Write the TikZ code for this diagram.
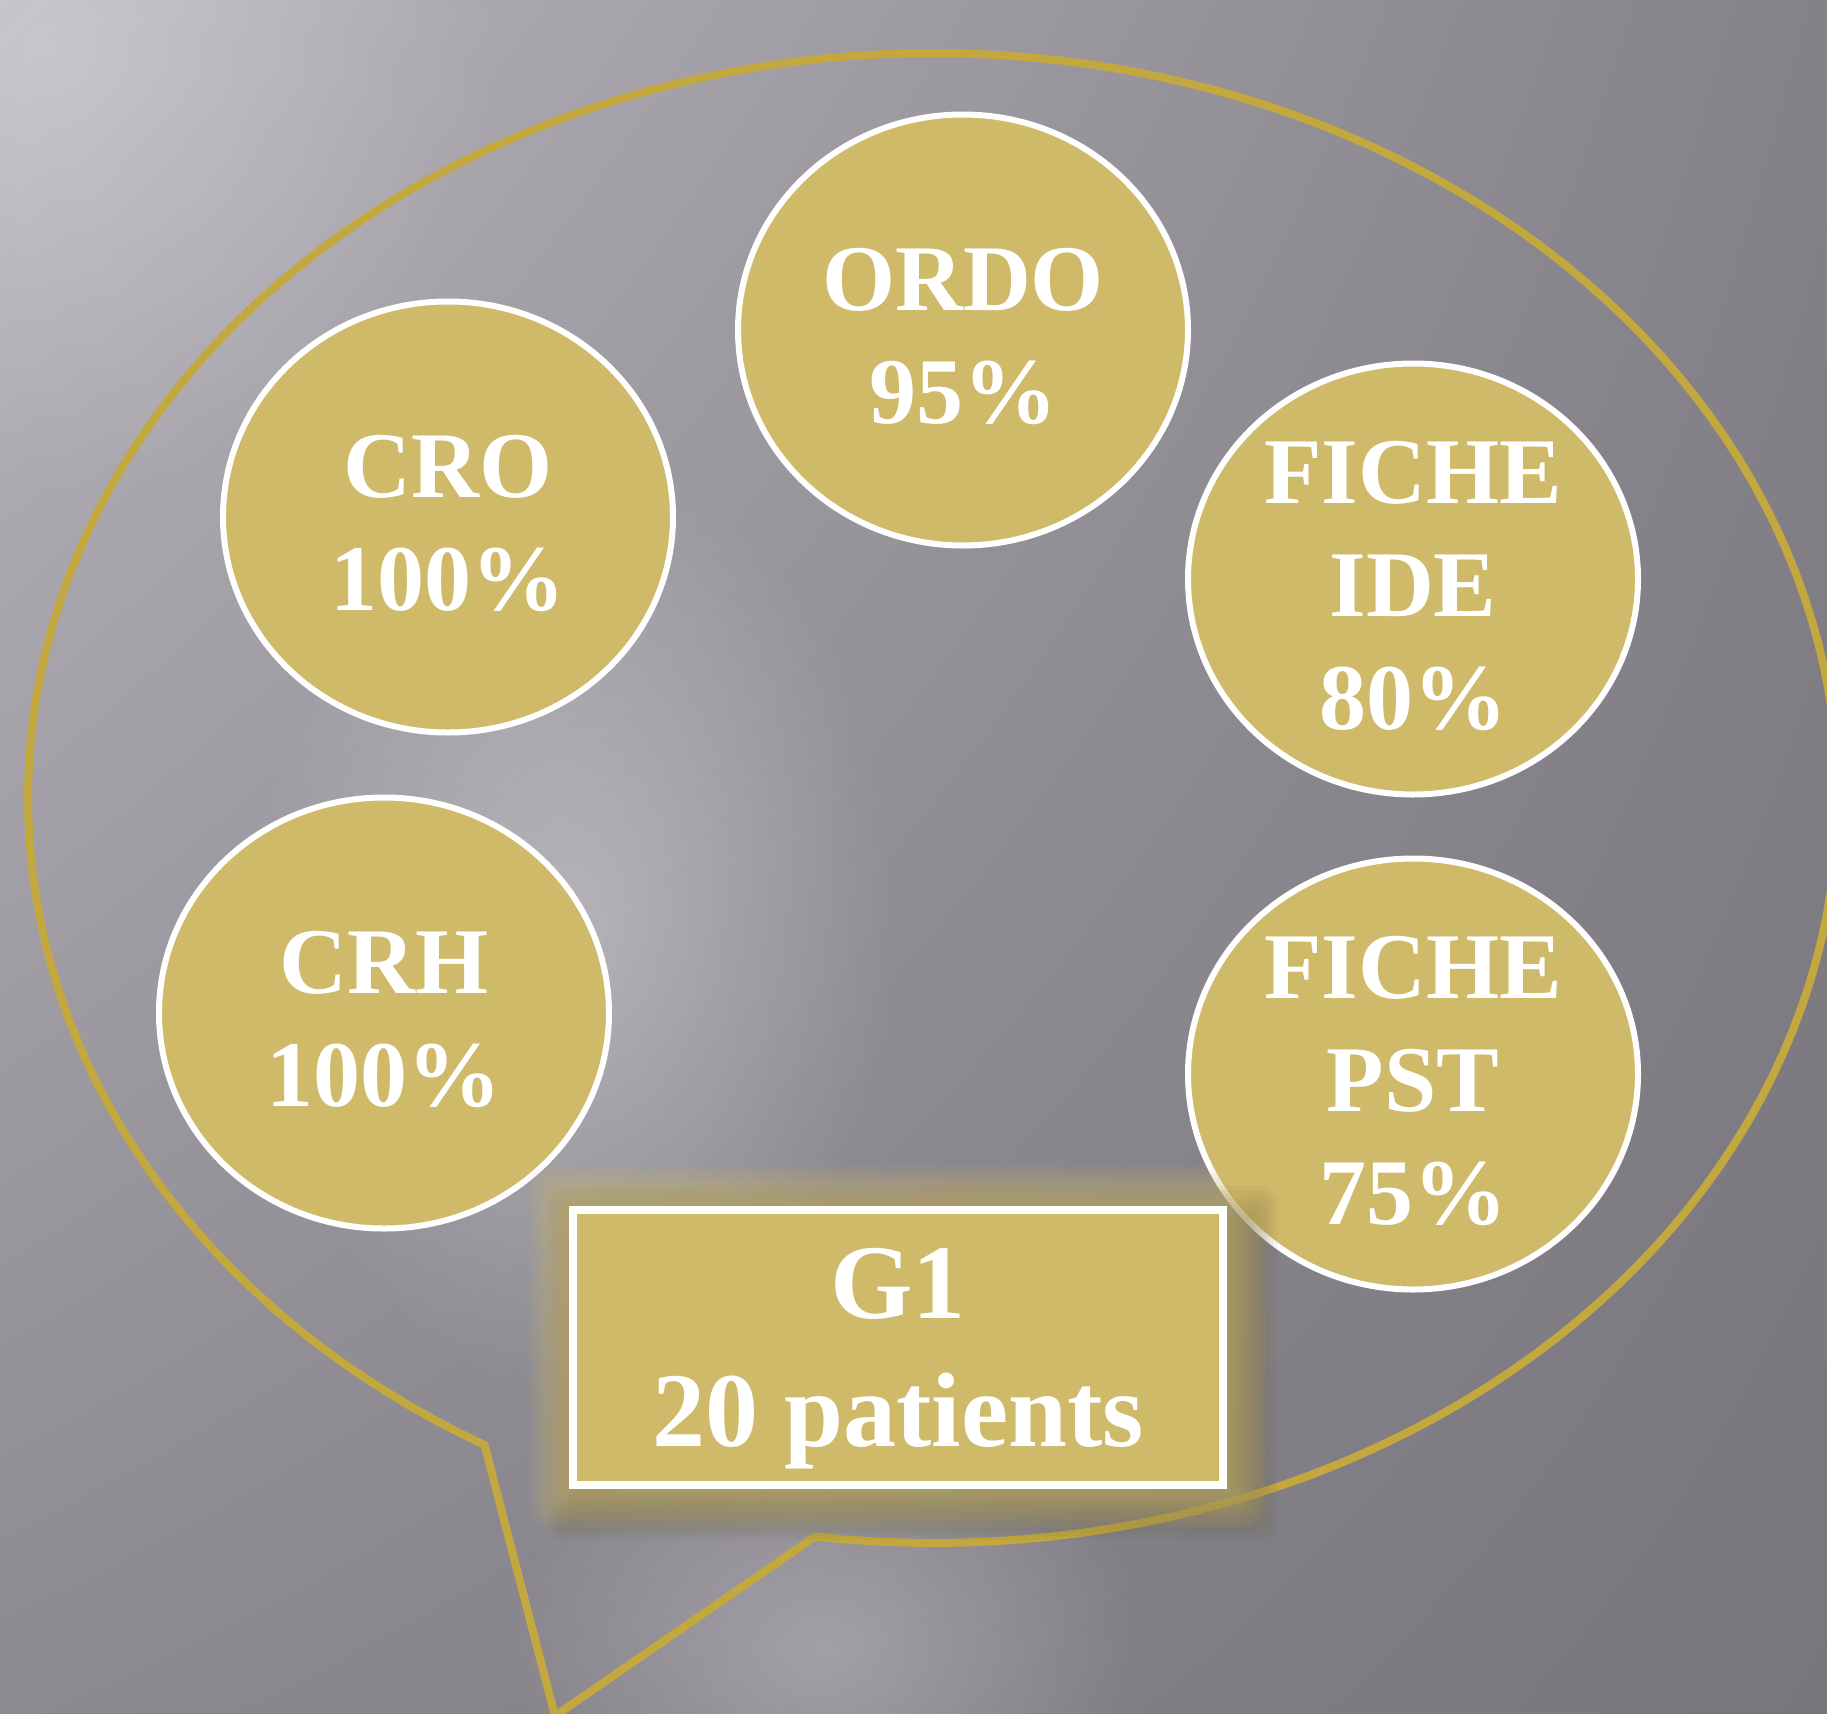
\documentclass[tikz,border=0pt]{standalone}
\usepackage{xcolor}
\usepackage{fontspec}
\setmainfont{Liberation Serif}
\usepackage{tikz}
\usetikzlibrary{shapes.geometric, positioning, calc, fadings, shadings}
\definecolor{goldfill}{HTML}{CFBA6A}
\definecolor{goldline}{HTML}{C2A83E}
\definecolor{shadowcol}{HTML}{6E6440}
\definecolor{fondA}{RGB}{184,181,188}
\definecolor{fondB}{RGB}{132,129,136}
\definecolor{fondC}{RGB}{140,137,145}
\definecolor{fondD}{RGB}{120,117,124}
\newcommand{\haut}{\rule{0pt}{76pt}}
\tikzfading[name=doux, inner color=transparent!0, outer color=transparent!100]
\tikzstyle{bulle} = [ellipse, draw=white, line width=6pt, fill=goldfill, minimum width=450pt, minimum height=431pt, inner sep=0pt, text=white, align=center, font=\fontsize{94}{113}\selectfont\bfseries]
\tikzstyle{boite} = [rectangle, draw=white, line width=8pt, fill=goldfill, minimum width=650pt, minimum height=275pt, text=white, align=center, text depth=0pt, font=\fontsize{106}{128}\selectfont\bfseries]
\tikzstyle{halo} = [fill=goldfill, fill opacity=0.08]
\tikzstyle{ombre} = [fill=shadowcol, fill opacity=0.07]
\tikzstyle{clair} = [white, path fading=doux]

\begin{document}
\begin{tikzpicture}[x=1pt, y=-1pt]
          \useasboundingbox (0,0) rectangle (1827,1713);
          \shade[upper left=fondA, upper right=fondB, lower left=fondC, lower right=fondD] (0,0) rectangle (1827,1713);
          \fill[clair, fill opacity=.30] (250,450) rectangle (900,1400);
          \fill[clair, fill opacity=.25] (500,1400) rectangle (1150,1900);
          \fill[clair, fill opacity=.25] (-400,-400) rectangle (500,500);

          \draw[goldline, line width=8pt] plot[domain=119.7:457.5, samples=180] ({933+905*cos(\x)}, {798+745*sin(\x)})
                -- (555,1716) -- cycle;

          \node[bulle] (ordo) at (963,330) {\haut ORDO\\95\%};
          \node[bulle] (cro) at (448,517) {\haut CRO\\100\%};
          \node[bulle] (ide) at (1413,579) {\haut FICHE\\IDE\\80\%};
          \node[bulle] (crh) at (384,1013) {\haut CRH\\100\%};
          \node[bulle, below=58pt of ide] (pst) {\haut FICHE\\PST\\75\%};

          \coordinate (boxc) at (898,1347);
          \foreach \g in {1,...,9}
              \fill[ombre, rounded corners=2*\g pt] ($(boxc)+(-329-4*\g+14,-141-4*\g+16)$) rectangle ($(boxc)+(329+4*\g+14,141+4*\g+16)$);
          \foreach \g in {1,...,10}
              \fill[halo, rounded corners=2*\g pt] ($(boxc)+(-329-4*\g,-141-4*\g)$) rectangle ($(boxc)+(329+4*\g,141+4*\g)$);

          \node[boite] (g1) at (boxc) {G1\\20 patients};
      \end{tikzpicture}
\end{document}
